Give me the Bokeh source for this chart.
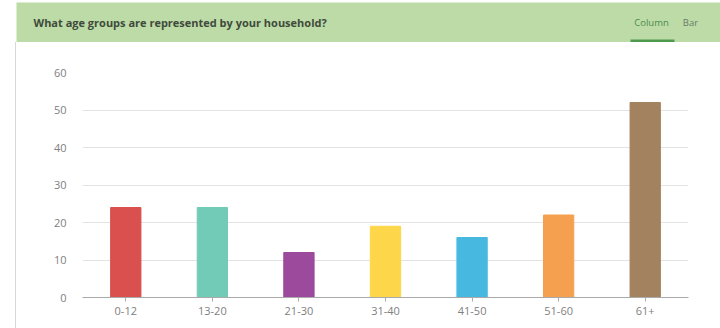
from bokeh.plotting import figure
from bokeh.models import Range1d, FactorRange, Label, BoxAnnotation, ColumnDataSource, Div
from bokeh.layouts import column, row
from bokeh.embed import file_html
from bokeh.resources import INLINE

categories = ["0-12", "13-20", "21-30", "31-40", "41-50", "51-60", "61+"]
counts = [24, 24, 12, 19, 16, 22, 52]
colors = ["#d9504e", "#72cbb6", "#9c4a9c", "#fdd64a", "#47b9e1", "#f4a04e", "#a2825f"]
y_ticks = [0, 10, 20, 30, 40, 50, 60]
title_text = "What age groups are represented by your household?"
tab_labels = ["Column", "Bar"]

FONT = "Open Sans"

# ---- header strip ----
header = figure(width=720, height=42, x_range=Range1d(0, 720), y_range=Range1d(42, 0),
                x_axis_type=None, y_axis_type=None, output_backend="svg",
                toolbar_location=None, min_border=0, outline_line_color=None,
                background_fill_color="white", border_fill_color="white")
header.frame_align = False
header.grid.visible = False
header.add_layout(BoxAnnotation(left=16, right=720, top=2, bottom=42,
                                fill_color="#bcdba6", fill_alpha=1, line_color=None))
header.add_layout(Label(x=33, y=21.5, text=title_text, text_baseline="middle",
                        text_font=FONT, text_font_size="11px", text_font_style="bold",
                        text_color="#3f4a3c"))
header.add_layout(Label(x=651, y=22, text=tab_labels[0], text_baseline="middle",
                        text_align="center", text_font=FONT, text_font_size="9.5px",
                        text_color="#4d8a4d"))
header.add_layout(Label(x=690, y=22, text=tab_labels[1], text_baseline="middle",
                        text_align="center", text_font=FONT, text_font_size="9.5px",
                        text_color="#6b7a6b"))
header.add_layout(BoxAnnotation(left=630, right=674, top=39, bottom=42,
                                fill_color="#4f9a4f", fill_alpha=1, line_color=None))

# ---- chart ----
src = ColumnDataSource(dict(cat=categories, count=counts, color=colors))
p = figure(width=704, height=286, x_range=FactorRange(*categories), y_range=Range1d(0, 60),
           output_backend="svg", toolbar_location=None,
           min_border_left=66, min_border_right=32, min_border_top=30, min_border_bottom=31,
           outline_line_color=None, background_fill_color="white", border_fill_color="white")
p.frame_align = False
p.vbar(x="cat", top="count", width=0.35, color="color", source=src)

p.yaxis.ticker = y_ticks
p.yaxis.axis_line_color = None
p.yaxis.major_tick_line_color = None
p.yaxis.minor_tick_line_color = None
p.yaxis.major_label_standoff = 10
p.yaxis.major_label_text_font_size = "11px"
p.yaxis.major_label_text_color = "#808080"
p.yaxis.major_label_text_font = FONT

p.xaxis.axis_line_color = "#aaaaaa"
p.xaxis.major_tick_line_color = "#aaaaaa"
p.xaxis.major_tick_out = 4
p.xaxis.major_tick_in = 0
p.xaxis.major_label_standoff = 5
p.xaxis.major_label_text_font_size = "11px"
p.xaxis.major_label_text_color = "#808080"
p.xaxis.major_label_text_font = FONT

p.xgrid.grid_line_color = None
p.ygrid.grid_line_color = "#e3e3e3"

# left panel edge
edge = Div(text="", width=16, height=286, margin=0,
           styles={"border-right": "1px solid #d8d8d8", "box-sizing": "border-box"})

layout = column(header, row(edge, p, spacing=0), spacing=0)
open("out.html", "w").write(file_html(layout, INLINE))
